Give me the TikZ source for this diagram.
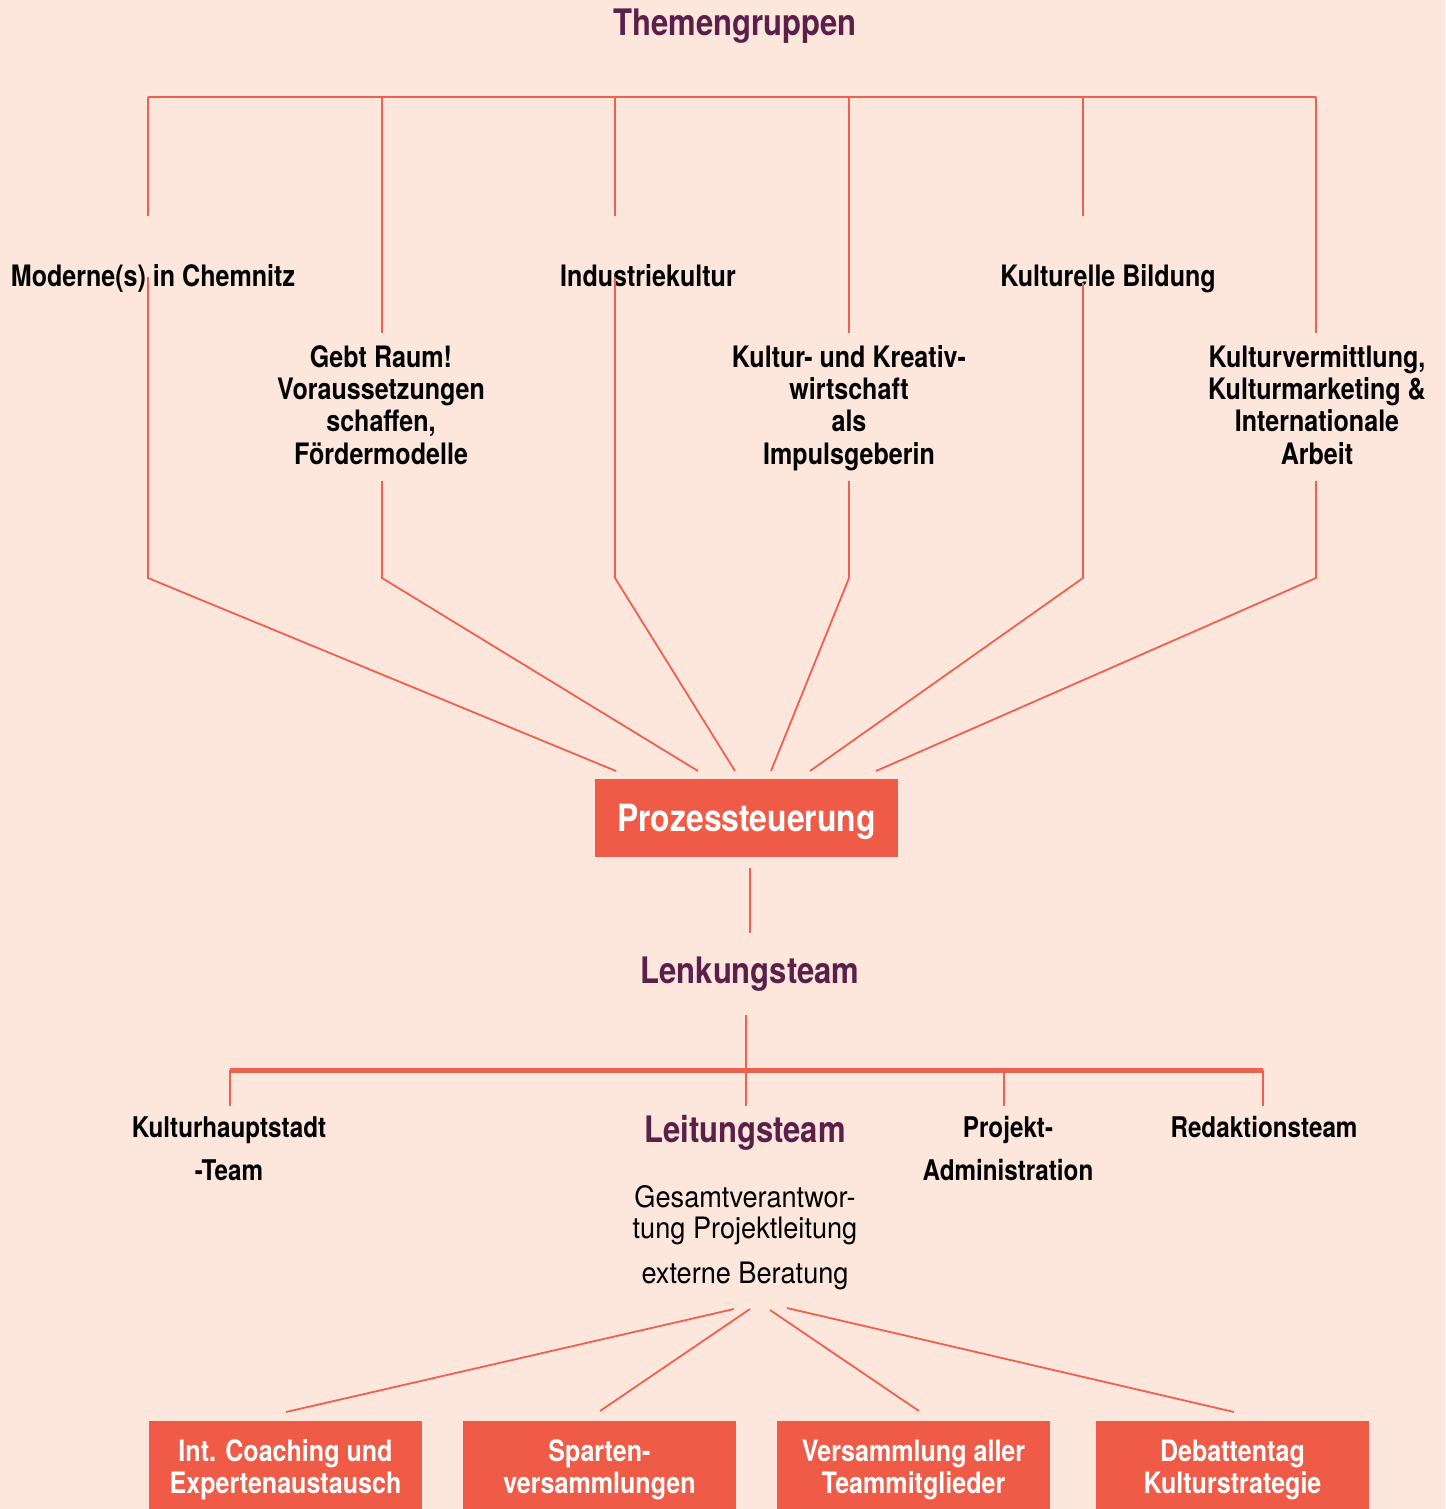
\documentclass[tikz,border=0pt]{standalone}
\usepackage{fontspec}
\setmainfont{TeX Gyre Heros}[FakeStretch=0.85]
\newfontfamily\thinfont{TeX Gyre Heros}[FakeStretch=0.92]
\usetikzlibrary{positioning}
\definecolor{pagebg}{HTML}{FDE6DC}
\definecolor{linered}{HTML}{F0604E}
\definecolor{boxred}{HTML}{F05B47}
\definecolor{plum}{HTML}{5A2049}
\tikzset{
  conn/.style={draw=linered, line width=1.8pt},
  bar/.style={draw=linered, line width=5pt},
  head/.style={font=\bfseries\fontsize{36.5}{40}\selectfont, text=plum, anchor=base},
  topic/.style={font=\bfseries\fontsize{29.5}{32.3}\selectfont, align=center, anchor=base},
  team/.style={font=\bfseries\fontsize{28.5}{43}\selectfont, align=center, anchor=base},
  note/.style={font=\thinfont\fontsize{29.5}{31}\selectfont, align=center, anchor=base},
  redbox/.style={fill=boxred, text=white, align=center, inner sep=0pt},
  subbox/.style={redbox, minimum width=273pt, minimum height=97pt, font=\bfseries\fontsize{29.5}{32}\selectfont}
}
\begin{document}
\begin{tikzpicture}[x=1pt,y=-1pt]
\useasboundingbox (0,0) rectangle (1445,1509);
\fill[pagebg] (0,0) rectangle (1445,1509);

\node[head] (themen) at (735,36) {Themengruppen};

\node[topic] (moderne) at (153,286) {Moderne(s) in Chemnitz};
\node[topic] (industrie) at (648,286) {Industriekultur};
\node[topic] (bildung) at (1108,286) {Kulturelle Bildung};
\node[topic] (raum) at (381,464) {Gebt Raum!\\Voraussetzungen\\schaffen,\\Fördermodelle};
\node[topic] (kreativ) at (849,464) {Kultur- und Kreativ-\\wirtschaft\\als\\Impulsgeberin};
\node[topic] (vermittlung) at (1317,464) {Kulturvermittlung,\\Kulturmarketing \&\\Internationale\\Arbeit};

\node[redbox, minimum width=303pt, minimum height=78pt, text depth=0pt, font=\bfseries\fontsize{37.5}{40}\selectfont] (proz) at (746.5,818) {Prozessteuerung};

\node[head] (lenk) at (750,983) {Lenkungsteam};
\node[team] (kht) at (229,1180) {Kulturhauptstadt\\-Team};
\node[head] (leit) at (745,1142) {Leitungsteam};
\node[team] (projekt) at (1008,1180) {Projekt-\\Administration};
\node[team] (redaktion) at (1264,1137) {Redaktionsteam};
\node[note] (gesamt) at (745,1238) {Gesamtverantwor-\\tung Projektleitung};
\node[note] (beratung) at (745,1283) {externe Beratung};

\node[subbox] (coach) at (285.5,1469.5) {Int. Coaching und\\Expertenaustausch};
\node[subbox] (sparten) at (599.5,1469.5) {Sparten-\\versammlungen};
\node[subbox] (versammlung) at (913.5,1469.5) {Versammlung aller\\Teammitglieder};
\node[subbox] (debatte) at (1232.5,1469.5) {Debattentag\\Kulturstrategie};

% top bracket
\coordinate (b1) at (148,97);  \coordinate (a1) at (148,216); \coordinate (c1) at (148,277); \coordinate (k1) at (148,578);
\coordinate (b2) at (382,97);  \coordinate (a2) at (382,333); \coordinate (c2) at (382,481); \coordinate (k2) at (382,578);
\coordinate (b3) at (615,97);  \coordinate (a3) at (615,216); \coordinate (c3) at (615,277); \coordinate (k3) at (615,578);
\coordinate (b4) at (849,97);  \coordinate (a4) at (849,333); \coordinate (c4) at (849,481); \coordinate (k4) at (849,578);
\coordinate (b5) at (1083,97); \coordinate (a5) at (1083,216); \coordinate (c5) at (1083,283); \coordinate (k5) at (1083,578);
\coordinate (b6) at (1316,97); \coordinate (a6) at (1316,333); \coordinate (c6) at (1316,481); \coordinate (k6) at (1316,578);
\coordinate (p1) at (616,771); \coordinate (p2) at (698,771); \coordinate (p3) at (735,771);
\coordinate (p4) at (771,771); \coordinate (p5) at (810,771); \coordinate (p6) at (876,771);

\draw[conn] (b1) -- (b6);
\draw[conn] (b1) -- (a1);
\draw[conn] (b2) -- (a2);
\draw[conn] (b3) -- (a3);
\draw[conn] (b4) -- (a4);
\draw[conn] (b5) -- (a5);
\draw[conn] (b6) -- (a6);
\draw[conn] (c1) -- (k1) -- (p1);
\draw[conn] (c2) -- (k2) -- (p2);
\draw[conn] (c3) -- (k3) -- (p3);
\draw[conn] (c4) -- (k4) -- (p4);
\draw[conn] (c5) -- (k5) -- (p5);
\draw[conn] (c6) -- (k6) -- (p6);

% steering
\coordinate (u1) at (750,868); \coordinate (u2) at (750,933);
\draw[conn] (u1) -- (u2);

% lower bracket
\coordinate (hk) at (230,1070); \coordinate (hl) at (746,1070);
\coordinate (hp) at (1004,1070); \coordinate (hr) at (1263,1070);
\coordinate (lt) at (746,1015);
\draw[bar] (hk) -- (hr);
\draw[conn] (hk) -- ++(0,36);
\draw[conn] (lt) -- ++(0,91);
\draw[conn] (hp) -- ++(0,36);
\draw[conn] (hr) -- ++(0,36);

% fan to the meetings
\coordinate (s1) at (734,1309); \coordinate (s2) at (750,1309);
\coordinate (s3) at (770,1310); \coordinate (s4) at (787,1308);
\coordinate (q1) at (286,1412); \coordinate (q2) at (600,1411);
\coordinate (q3) at (919,1411); \coordinate (q4) at (1234,1412);
\draw[conn] (s1) -- (q1);
\draw[conn] (s2) -- (q2);
\draw[conn] (s3) -- (q3);
\draw[conn] (s4) -- (q4);

\end{tikzpicture}
\end{document}
